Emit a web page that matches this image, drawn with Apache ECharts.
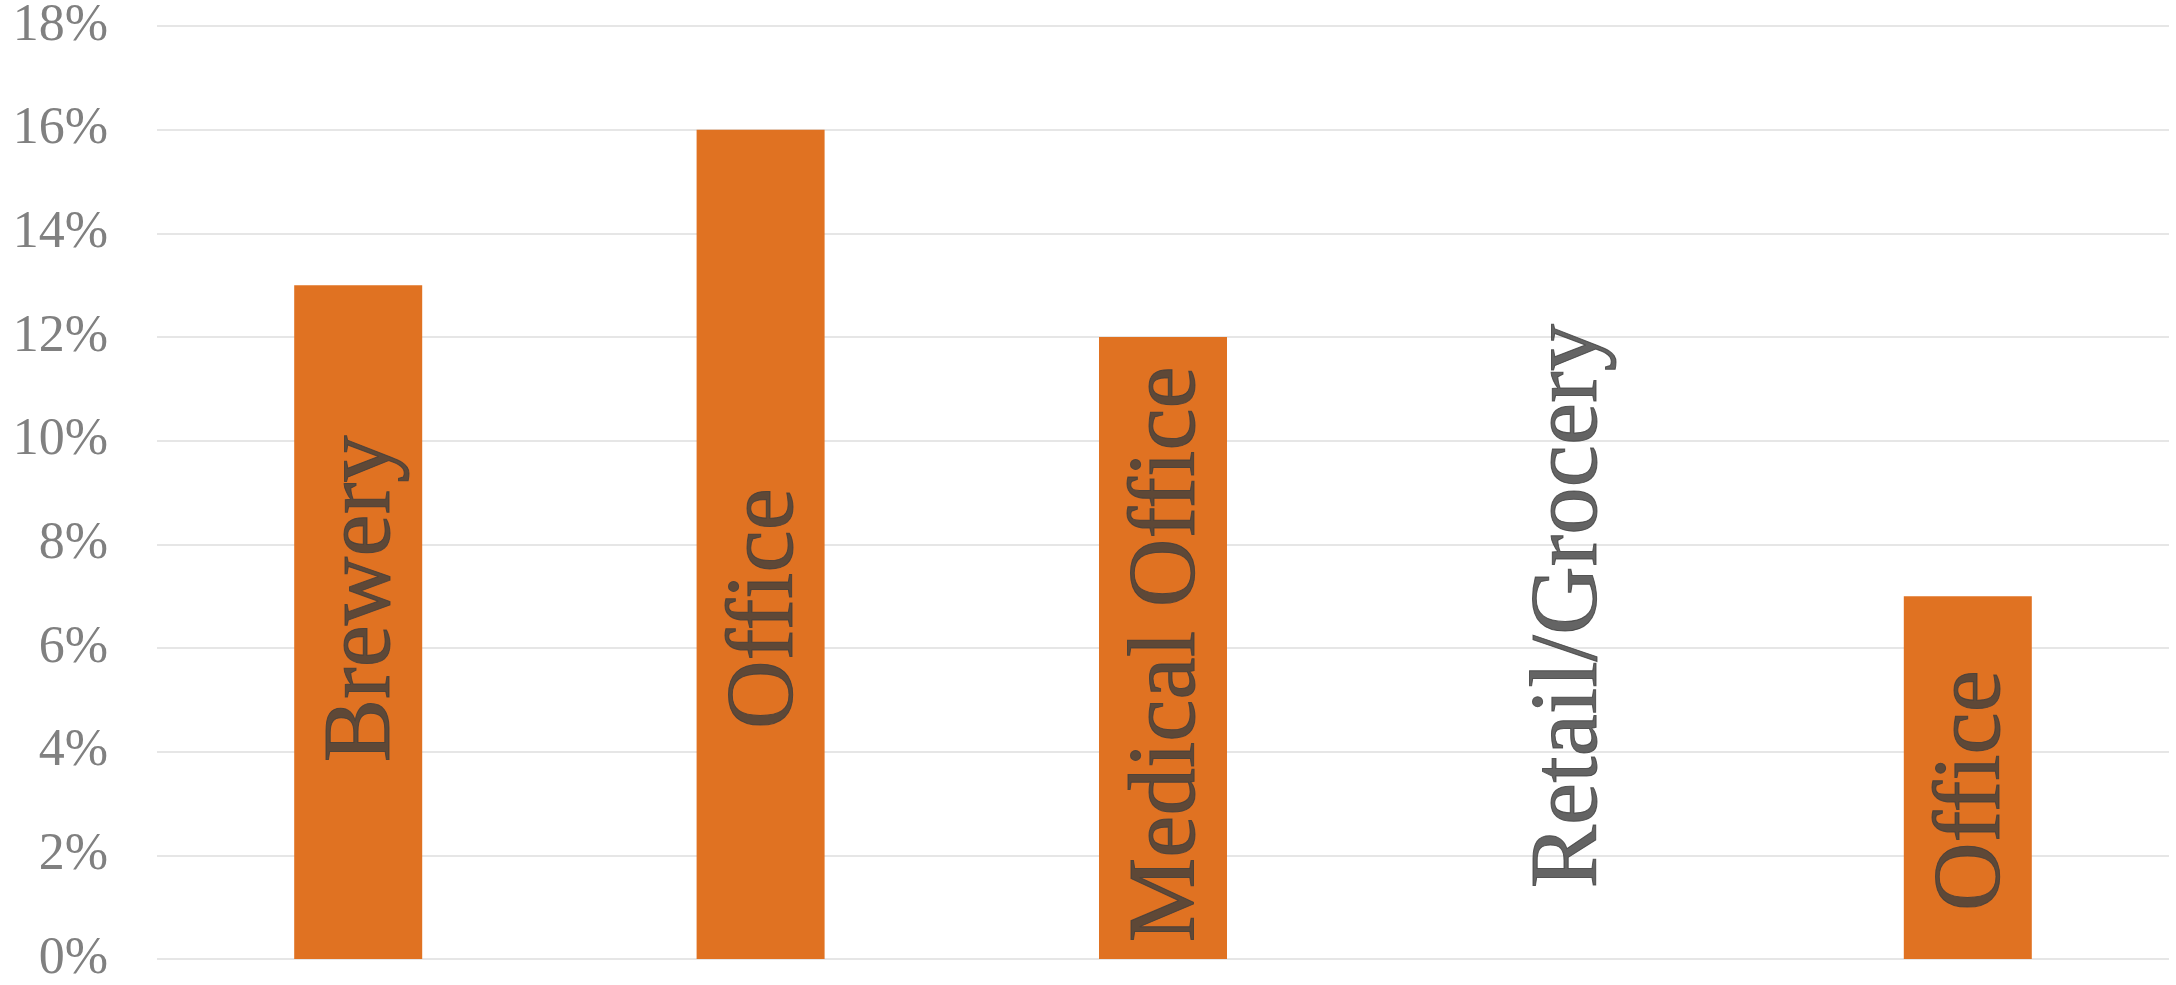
<!DOCTYPE html>
<html>
<head>
<meta charset="utf-8">
<script src="https://cdn.jsdelivr.net/npm/echarts@6/dist/echarts.min.js"></script>
<style>
  html, body { margin: 0; padding: 0; background: #ffffff; }
  #chart { width: 2176px; height: 985px; }
</style>
</head>
<body>
<div id="chart"></div>
<script>
// ---- data ----
const categories = ['Brewery', 'Office', 'Medical Office', 'Retail/Grocery', 'Office'];
const values = [13, 16, 12, 0, 7];            // percent
const labelAnchor = [6.95, 6.76, 5.88, 6.81, 3.25]; // value (in %) where each rotated label is centred
const yTicks = { min: 0, max: 18, interval: 2 };

const chart = echarts.init(document.getElementById('chart'), null, { renderer: 'canvas' });

const serif = "'Liberation Serif', 'Times New Roman', serif";

chart.setOption({
  backgroundColor: '#ffffff',
  animation: false,
  grid: { left: 157, right: 7, top: 26, bottom: 24, containLabel: false },
  xAxis: {
    type: 'category',
    data: categories.map((c, i) => i),
    axisLine: { show: false },
    axisTick: { show: false },
    axisLabel: { show: false },
    splitLine: { show: false }
  },
  yAxis: {
    type: 'value',
    min: yTicks.min,
    max: yTicks.max,
    interval: yTicks.interval,
    axisLine: { show: false },
    axisTick: { show: false },
    axisLabel: {
      formatter: '{value}%',
      fontFamily: serif,
      fontSize: 52,
      color: '#808080',
      margin: 49
    },
    splitLine: { lineStyle: { color: '#dedede', width: 1.5 } }
  },
  series: [
    {
      type: 'bar',
      data: values,
      barWidth: 128,
      itemStyle: { color: '#E07222' },
      z: 2
    },
    {
      type: 'scatter',
      data: categories.map((c, i) => ({ value: [i, labelAnchor[i]], name: c })),
      symbolSize: 0,
      silent: true,
      z: 5,
      label: {
        show: true,
        position: 'inside',
        rotate: 90,
        offset: [0, 6],
        formatter: p => p.name,
        fontFamily: serif,
        fontSize: 95,
        color: '#3d3d3d',
        textBorderColor: '#3d3d3d',
        textBorderWidth: 1,
        align: 'center',
        verticalAlign: 'middle'
      }
    }
  ]
});
</script>
</body>
</html>
